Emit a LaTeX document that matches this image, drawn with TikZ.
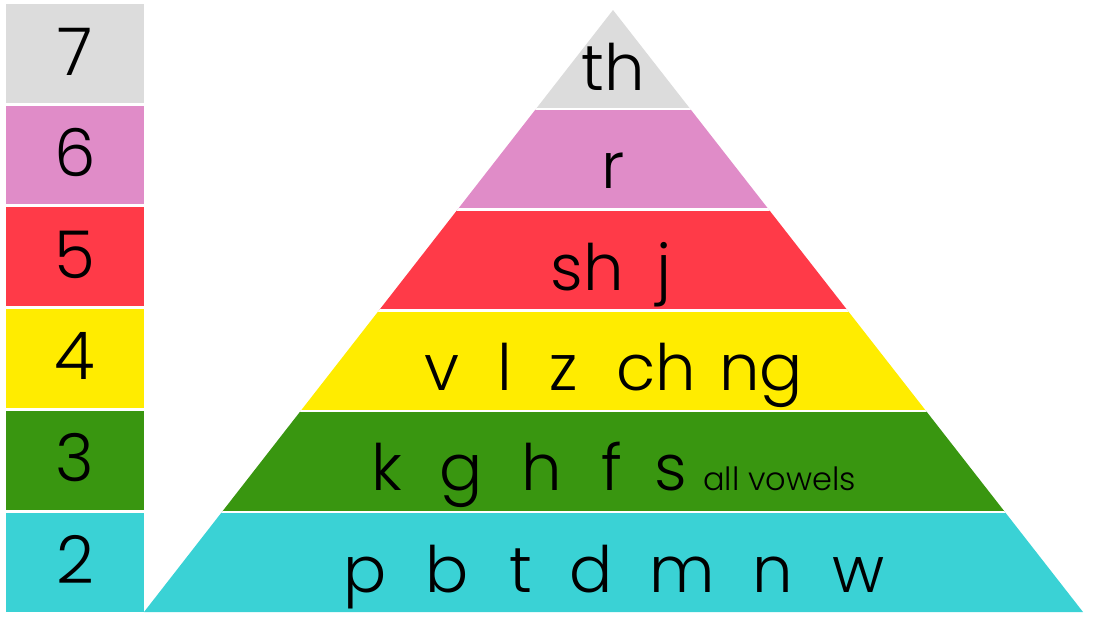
\documentclass[tikz,border=0pt]{standalone}
\usepackage{fontspec}
\setmainfont{Poppins}[UprightFont=* Light]
\definecolor{cgrey}{RGB}{220,220,220}
\definecolor{cpink}{RGB}{224,140,200}
\definecolor{cred}{RGB}{255,58,72}
\definecolor{cyellow}{RGB}{255,236,0}
\definecolor{cgreen}{RGB}{57,150,16}
\definecolor{ccyan}{RGB}{58,210,213}
\begin{document}
\begin{tikzpicture}[x=1pt,y=-1pt,
  num/.style={inner sep=0pt, anchor=base, font=\fontsize{66}{66}\selectfont},
  big/.style={inner sep=0pt, anchor=base, font=\fontsize{64}{64}\selectfont},
  small/.style={inner sep=0pt, anchor=base west, font=\fontsize{32}{32}\selectfont},
  sep/.style={white, line width=2.4pt}]
\useasboundingbox (0,0) rectangle (1099,621);
% level boxes
\fill[cgrey]   (6,4)     rectangle (144,102.7);
\fill[cpink]   (6,105.7) rectangle (144,204.4);
\fill[cred]    (6,207.4) rectangle (144,306.1);
\fill[cyellow] (6,309.1) rectangle (144,407.8);
\fill[cgreen]  (6,410.8) rectangle (144,509.5);
\fill[ccyan]   (6,512.5) rectangle (144,611.7);
\node[num] (n7) at (75,75)    {7};
\node[num] (n6) at (75,176.5) {6};
\node[num] (n5) at (75,278.2) {5};
\node[num] (n4) at (75,379.9) {4};
\node[num] (n3) at (75,481.6) {3};
\node[num] (n2) at (75,583.3) {2};
% pyramid
\begin{scope}
\clip (613,10) -- (144,612) -- (1083,612) -- cycle;
\fill[cgrey]   (140,0)     rectangle (1099,108.8);
\fill[cpink]   (140,108.8) rectangle (1099,209.6);
\fill[cred]    (140,209.6) rectangle (1099,310.4);
\fill[cyellow] (140,310.4) rectangle (1099,411.2);
\fill[cgreen]  (140,411.2) rectangle (1099,512);
\fill[ccyan]   (140,512)   rectangle (1099,621);
\draw[sep] (140,108.8) -- (1099,108.8);
\draw[sep] (140,209.6) -- (1099,209.6);
\draw[sep] (140,310.4) -- (1099,310.4);
\draw[sep] (140,411.2) -- (1099,411.2);
\draw[sep] (140,512)   -- (1099,512);
\end{scope}
% row 7
\node[big] (th) at (613.5,90) {th};
% row 6
\node[big] (r) at (613,188) {r};
% row 5
\node[big] (sh) at (587.5,290) {sh};
\node[big] (j) at (664,290) {j};
% row 4
\node[big] (v) at (441.5,390) {v};
\node[big] (l) at (504.5,390) {l};
\node[big] (z) at (563.5,390) {z};
\node[big] (ch) at (656.5,390) {ch};
\node[big] (ng) at (761,390) {ng};
% row 3
\node[big] (k) at (387,490) {k};
\node[big] (g) at (461,490) {g};
\node[big] (h) at (541.5,490) {h};
\node[big] (f) at (611.5,490) {f};
\node[big] (s) at (671,490) {s};
\node[small] (vow) at (703,490) {all vowels};
% row 2
\node[big] (p) at (365,592) {p};
\node[big] (b) at (447.5,592) {b};
\node[big] (t) at (520.5,592) {t};
\node[big] (d) at (591,592) {d};
\node[big] (m) at (682.5,592) {m};
\node[big] (n) at (772.5,592) {n};
\node[big] (w) at (858.5,592) {w};
\end{tikzpicture}
\end{document}
